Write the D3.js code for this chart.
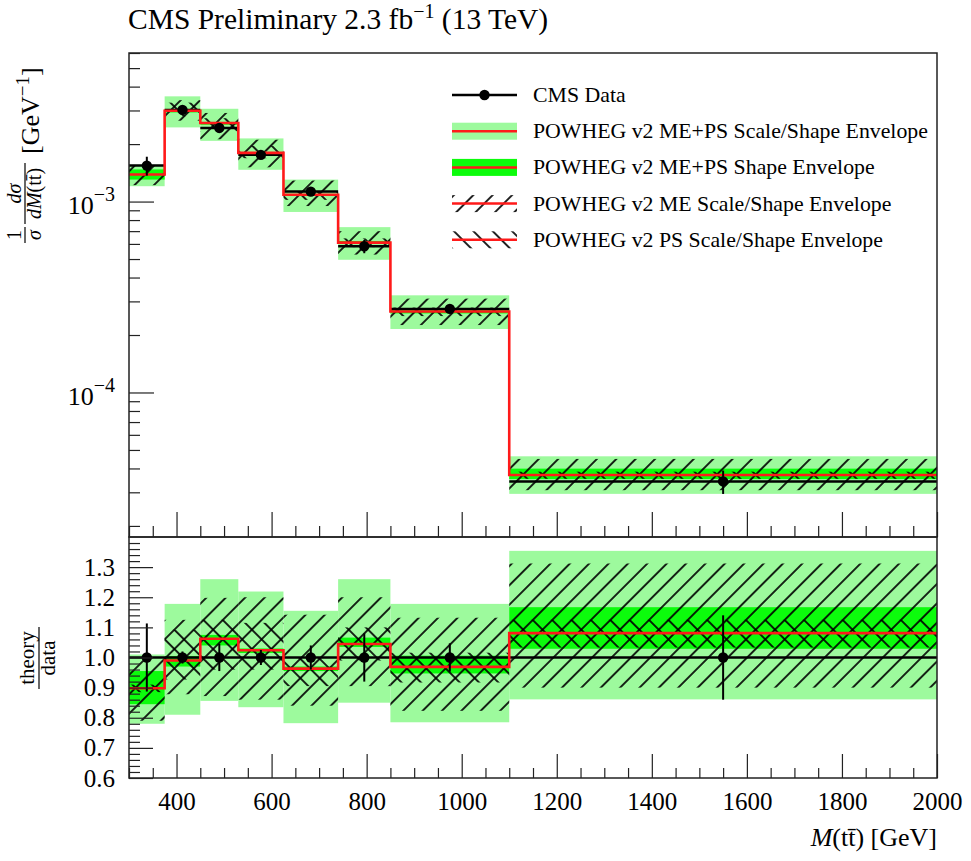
<!DOCTYPE html>
<html>
<head>
<meta charset="utf-8">
<script src="https://cdn.jsdelivr.net/npm/d3@7"></script>
<style>
  body { margin: 0; background: #fff; }
  text { font-family: "Liberation Serif", "DejaVu Serif", serif; fill: #000; }
</style>
</head>
<body>
<svg id="chart" width="971" height="861"></svg>
<script>
// M(tt) bin edges in GeV
const binEdges = [300, 375, 450, 530, 625, 740, 850, 1100, 2000];
// Normalised differential cross section, CMS data [GeV^-1]
const dataValues = [1.543e-3, 3.02e-3, 2.43e-3, 1.757e-3, 1.128e-3, 5.83e-4, 2.74e-4, 3.42e-5];
// Relative uncertainty of the data points
const dataRelErr = [0.113, 0.02, 0.045, 0.025, 0.04, 0.08, 0.047, 0.14];
// POWHEG v2 central prediction, as theory/data
const theoryRatio = [0.898, 0.99, 1.062, 1.024, 0.963, 1.045, 0.969, 1.081];
// ME+PS scale/shape envelope (theory/data)
const mePsEnvLo = [0.78, 0.81, 0.856, 0.835, 0.782, 0.85, 0.785, 0.861];
const mePsEnvHi = [1.01, 1.178, 1.26, 1.219, 1.155, 1.26, 1.178, 1.354];
// ME+PS shape-only envelope (theory/data)
const mePsShapeLo = [0.845, 0.97, 1.04, 1.015, 0.955, 1.035, 0.947, 1.029];
const mePsShapeHi = [0.955, 1.005, 1.075, 1.03, 0.97, 1.066, 1.006, 1.167];
// ME scale/shape envelope (theory/data)
const meEnvLo = [0.79, 0.878, 0.872, 0.86, 0.84, 0.905, 0.823, 0.9];
const meEnvHi = [1.0, 1.125, 1.198, 1.2, 1.142, 1.2, 1.132, 1.312];
// PS scale/shape envelope (theory/data)
const psEnvLo = [0.885, 0.927, 0.96, 0.96, 0.905, 0.99, 0.917, 1.033];
const psEnvHi = [0.91, 1.092, 1.125, 1.115, 1.0, 1.1, 1.016, 1.125];
// Axis ticks
const xTickLabels = [400, 600, 800, 1000, 1200, 1400, 1600, 1800, 2000];
const ratioTickLabels = [0.6, 0.7, 0.8, 0.9, 1.0, 1.1, 1.2, 1.3];
const logTickExponents = [-4, -3];
const legendLabels = [
  "CMS Data",
  "POWHEG v2 ME+PS Scale/Shape Envelope",
  "POWHEG v2 ME+PS Shape Envelope",
  "POWHEG v2 ME Scale/Shape Envelope",
  "POWHEG v2 PS Scale/Shape Envelope"
];

const LIGHT = "#9dfa9d", BRIGHT = "#0cfc0c", RED = "#ff1a1a";
const svg = d3.select("#chart");
const defs = svg.append("defs");

// Hatch fills: "/" for ME, "\" for PS
function hatch(id, angle) {
  const s = 13.7;
  defs.append("pattern")
    .attr("id", id)
    .attr("patternUnits", "userSpaceOnUse")
    .attr("width", s).attr("height", s)
    .attr("patternTransform", `rotate(${angle})`)
    .append("line")
    .attr("x1", s / 2).attr("y1", 0).attr("x2", s / 2).attr("y2", s)
    .attr("stroke", "#000").attr("stroke-width", 1.7);
}
hatch("hatchMe", 45);
hatch("hatchPs", -45);

const L = 129, R = 937, T = 53, MID = 537, B = 778;
const x = d3.scaleLinear().domain([300, 2000]).range([L, R]);
const yTop = d3.scaleLog().domain([1.75e-5, 6e-3]).range([MID, T]);
const yRat = d3.scaleLinear().domain([0.6, 1.4]).range([B, MID]);

defs.append("clipPath").attr("id", "clipTop")
  .append("rect").attr("x", L).attr("y", T).attr("width", R - L).attr("height", MID - T);
defs.append("clipPath").attr("id", "clipRat")
  .append("rect").attr("x", L).attr("y", MID).attr("width", R - L).attr("height", B - MID);

const bins = dataValues.map((d, i) => ({
  i, x0: binEdges[i], x1: binEdges[i + 1], xc: (binEdges[i] + binEdges[i + 1]) / 2, d
}));

// Draw all envelopes, the prediction and the data in one panel.
// toY(bin, ratio) gives the value that is placed on the panel's y scale.
function drawPanel(clipId, yScale, toY, dataY) {
  const g = svg.append("g").attr("clip-path", `url(#${clipId})`);
  const band = (lo, hi, fill) => {
    g.append("g").selectAll("rect").data(bins).join("rect")
      .attr("x", b => x(b.x0))
      .attr("width", b => x(b.x1) - x(b.x0))
      .attr("y", b => yScale(toY(b, hi[b.i])))
      .attr("height", b => yScale(toY(b, lo[b.i])) - yScale(toY(b, hi[b.i])))
      .attr("fill", fill);
  };
  band(mePsEnvLo, mePsEnvHi, LIGHT);
  band(mePsShapeLo, mePsShapeHi, BRIGHT);
  band(meEnvLo, meEnvHi, "url(#hatchMe)");
  band(psEnvLo, psEnvHi, "url(#hatchPs)");

  // data: bin-wide horizontal segments
  if (dataY.perBin) {
    g.append("g").selectAll("line").data(bins).join("line")
      .attr("x1", b => x(b.x0)).attr("x2", b => x(b.x1))
      .attr("y1", b => yScale(dataY.val(b))).attr("y2", b => yScale(dataY.val(b)))
      .attr("stroke", "#000").attr("stroke-width", 2.5);
  } else {
    g.append("line").attr("x1", L).attr("x2", R)
      .attr("y1", yScale(1)).attr("y2", yScale(1))
      .attr("stroke", "#000").attr("stroke-width", 2.5);
  }

  // prediction as a step histogram
  const pts = bins.map(b => [b.x0, toY(b, theoryRatio[b.i])]);
  pts.push([2000, toY(bins[bins.length - 1], theoryRatio[bins.length - 1])]);
  g.append("path")
    .attr("d", d3.line().x(p => x(p[0])).y(p => yScale(p[1])).curve(d3.curveStepAfter)(pts))
    .attr("fill", "none").attr("stroke", RED).attr("stroke-width", 2.6);

  // error bars and markers
  g.append("g").selectAll("line").data(bins).join("line")
    .attr("x1", b => x(b.xc)).attr("x2", b => x(b.xc))
    .attr("y1", b => yScale(dataY.val(b) * (1 + dataRelErr[b.i])))
    .attr("y2", b => yScale(dataY.val(b) * (1 - dataRelErr[b.i])))
    .attr("stroke", "#000").attr("stroke-width", 2);
  g.append("g").selectAll("circle").data(bins).join("circle")
    .attr("cx", b => x(b.xc)).attr("cy", b => yScale(dataY.val(b)))
    .attr("r", 5.2).attr("fill", "#000");
}

drawPanel("clipTop", yTop, (b, r) => b.d * r, { perBin: true, val: b => b.d });
drawPanel("clipRat", yRat, (b, r) => r, { perBin: false, val: b => 1 });

// ---- axes ----
const minorX = d3.range(300, 2001, 50).filter(v => v % 200 !== 0);
const styleAxis = sel => {
  sel.select(".domain").remove();
  sel.selectAll(".tick line").attr("stroke", "#222").attr("stroke-width", 1.2);
};

// top panel x ticks (no labels)
svg.append("g").attr("transform", `translate(0,${MID})`)
  .call(d3.axisBottom(x).tickValues(xTickLabels).tickSize(-25).tickFormat(""))
  .call(styleAxis);
svg.append("g").attr("transform", `translate(0,${MID})`)
  .call(d3.axisBottom(x).tickValues(minorX).tickSize(-11).tickFormat(""))
  .call(styleAxis);

// ratio panel x axis
const xAxis = svg.append("g").attr("transform", `translate(0,${B})`)
  .call(d3.axisBottom(x).tickValues(xTickLabels).tickSize(-24).tickPadding(13).tickFormat(d3.format("d")))
  .call(styleAxis);
xAxis.selectAll("text").attr("font-size", 25).attr("dy", "0.75em");
svg.append("g").attr("transform", `translate(0,${B})`)
  .call(d3.axisBottom(x).tickValues(minorX).tickSize(-10).tickFormat(""))
  .call(styleAxis);

// top panel log y axis
const minorLog = [];
[-5, -4, -3].forEach(e => d3.range(2, 10).forEach(m => {
  const v = m * Math.pow(10, e);
  if (v >= 1.75e-5 && v <= 6e-3) minorLog.push(v);
}));
const yTopAxis = svg.append("g").attr("transform", `translate(${L},0)`)
  .call(d3.axisLeft(yTop).tickValues(logTickExponents.map(e => Math.pow(10, e))).tickSize(-25).tickPadding(14).tickFormat(""))
  .call(styleAxis);
yTopAxis.selectAll(".tick").each(function (v) {
  const e = Math.round(Math.log10(v));
  const t = d3.select(this).select("text").attr("font-size", 26).attr("dy", "0.45em");
  t.append("tspan").text("10");
  t.append("tspan").attr("font-size", 20).attr("dy", "-0.65em").text("\u2212" + Math.abs(e));
});
svg.append("g").attr("transform", `translate(${L},0)`)
  .call(d3.axisLeft(yTop).tickValues(minorLog).tickSize(-11).tickFormat(""))
  .call(styleAxis);

// ratio y axis
const yRatAxis = svg.append("g").attr("transform", `translate(${L},0)`)
  .call(d3.axisLeft(yRat).tickValues(ratioTickLabels).tickSize(-24).tickPadding(14).tickFormat(d3.format(".1f")))
  .call(styleAxis);
yRatAxis.selectAll("text").attr("font-size", 25);
const minorRat = d3.range(0, 41).map(k => +(0.6 + k * 0.02).toFixed(2)).filter(v => Math.round(v * 100) % 10 !== 0);
svg.append("g").attr("transform", `translate(${L},0)`)
  .call(d3.axisLeft(yRat).tickValues(minorRat).tickSize(-11).tickFormat(""))
  .call(styleAxis);

// frames
[[T, MID], [MID, B]].forEach(([a, b]) => {
  svg.append("rect").attr("x", L).attr("y", a).attr("width", R - L).attr("height", b - a)
    .attr("fill", "none").attr("stroke", "#222").attr("stroke-width", 1.5);
});

// ---- legend ----
const leg = svg.append("g");
legendLabels.forEach((lab, k) => {
  const cy = 95 + k * 36.2;
  const row = leg.append("g");
  if (k === 0) {
    row.append("line").attr("x1", 452).attr("x2", 517).attr("y1", cy).attr("y2", cy)
      .attr("stroke", "#000").attr("stroke-width", 2.5);
    row.append("circle").attr("cx", 484.5).attr("cy", cy).attr("r", 5.2).attr("fill", "#000");
  } else {
    const fill = [LIGHT, BRIGHT, "url(#hatchMe)", "url(#hatchPs)"][k - 1];
    row.append("rect").attr("x", 452).attr("y", cy - 8.5).attr("width", 65).attr("height", 17).attr("fill", fill);
    row.append("line").attr("x1", 452).attr("x2", 517).attr("y1", cy).attr("y2", cy)
      .attr("stroke", RED).attr("stroke-width", 2.5);
  }
  row.append("text").attr("x", 533).attr("y", cy + 7).attr("font-size", 21.8).text(lab);
});

// ---- titles and axis labels ----
const title = svg.append("text").attr("x", 128).attr("y", 29).attr("font-size", 29.5);
title.append("tspan").text("CMS Preliminary 2.3 fb");
title.append("tspan").attr("font-size", 20).attr("dy", -11).text("\u22121");
title.append("tspan").attr("dy", 11).text(" (13 TeV)");

const xl = svg.append("text").attr("x", R).attr("y", 846).attr("text-anchor", "end").attr("font-size", 26);
xl.append("tspan").attr("font-style", "italic").text("M");
xl.append("tspan").text("(tt\u0304)  [GeV]");

// top panel y label, rotated
const yl = svg.append("g").attr("transform", "translate(25,244) rotate(-90)");
const frac = (u0, u1, num, numItalic) => {
  const uc = (u0 + u1) / 2;
  yl.append("line").attr("x1", u0).attr("x2", u1).attr("y1", 0).attr("y2", 0)
    .attr("stroke", "#000").attr("stroke-width", 1.2);
  const n = yl.append("text").attr("x", uc).attr("y", -4).attr("text-anchor", "middle").attr("font-size", 20);
  n.text(num); if (numItalic) n.attr("font-style", "italic");
  return yl.append("text").attr("x", uc).attr("y", 16).attr("text-anchor", "middle").attr("font-size", 20);
};
frac(1, 17, "1", false).attr("font-style", "italic").text("\u03c3");
const d2 = frac(20, 81, "d\u03c3", true);
d2.append("tspan").attr("font-style", "italic").text("dM");
d2.append("tspan").text("(tt\u0304)");
const gev = yl.append("text").attr("x", 90).attr("y", 14).attr("font-size", 26);
gev.append("tspan").text("[GeV");
gev.append("tspan").attr("font-size", 19).attr("dy", -10).text("\u22121");
gev.append("tspan").attr("dy", 10).text("]");

// ratio y label
const rl = svg.append("g").attr("transform", "translate(39,658) rotate(-90)");
rl.append("line").attr("x1", -31).attr("x2", 31).attr("y1", 0).attr("y2", 0).attr("stroke", "#000").attr("stroke-width", 1.2);
rl.append("text").attr("x", 0).attr("y", -5).attr("text-anchor", "middle").attr("font-size", 21).text("theory");
rl.append("text").attr("x", 0).attr("y", 16).attr("text-anchor", "middle").attr("font-size", 21).text("data");
</script>
</body>
</html>
